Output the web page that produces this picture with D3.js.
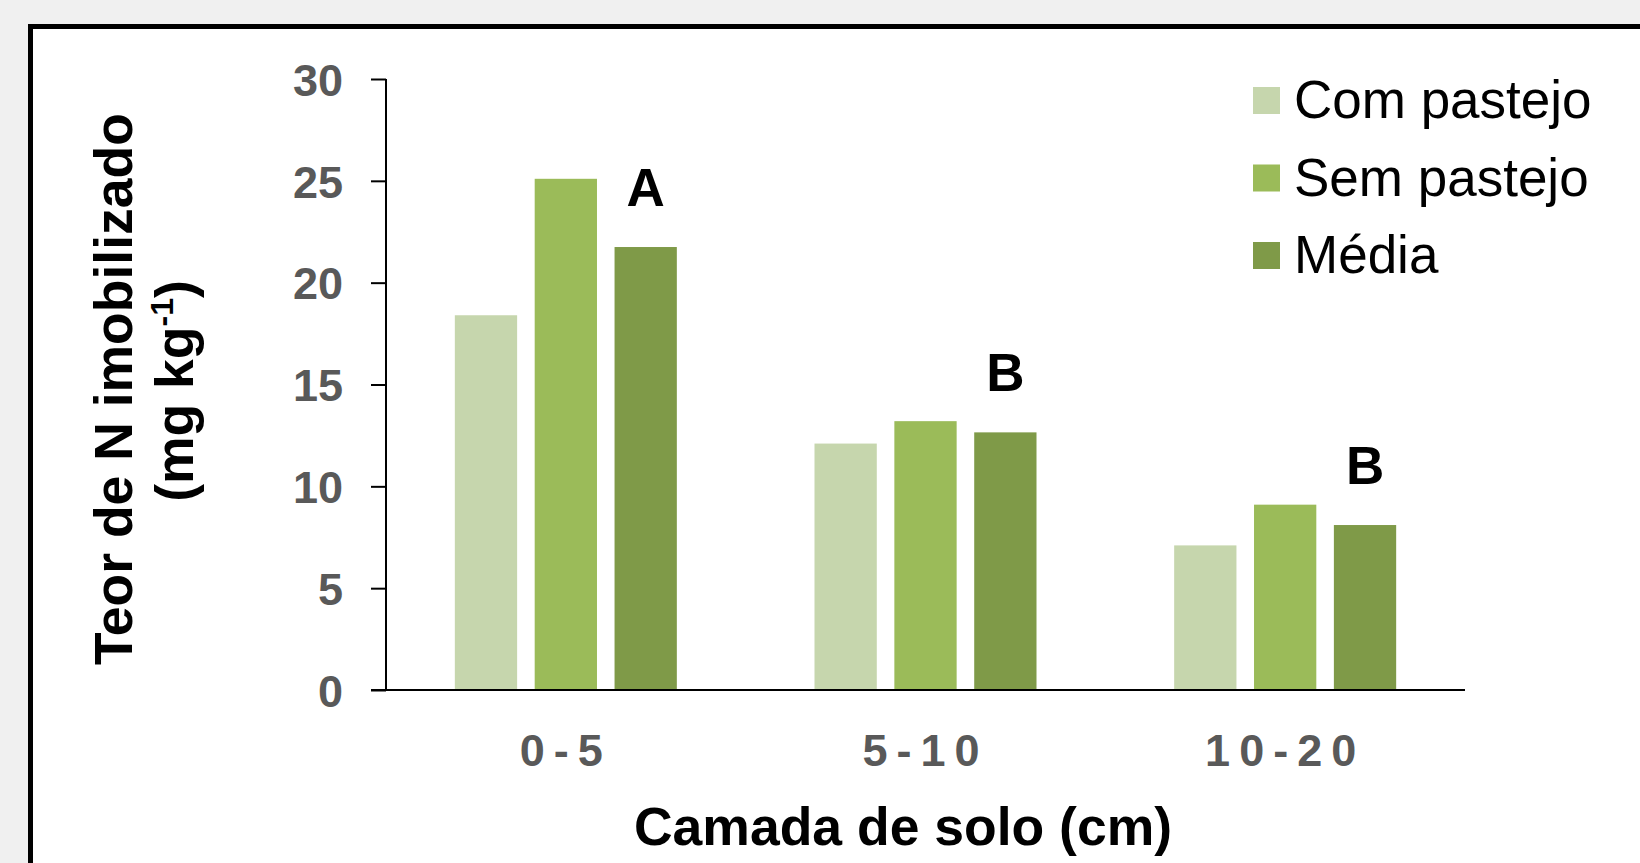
<!DOCTYPE html>
<html>
<head>
<meta charset="utf-8">
<script src="https://cdn.jsdelivr.net/npm/d3@7"></script>
<style>
  html, body { margin: 0; padding: 0; background: #f0f0f0; }
  svg { display: block; }
  text { font-family: "Liberation Sans", Arial, sans-serif; }
</style>
</head>
<body>
<svg id="chart" width="1640" height="863"></svg>
<script>
// ---- data ----
const categories = ["0-5", "5-10", "10-20"];
const seriesNames = ["Com pastejo", "Sem pastejo", "Média"];
const comPastejo = [18.4, 12.1, 7.1];
const semPastejo = [25.1, 13.2, 9.1];
const media = [21.75, 12.65, 8.1];
const sigLetters = ["A", "B", "B"];
const yTicks = [0, 5, 10, 15, 20, 25, 30];
const colors = ["#c6d6ad", "#9bbb59", "#7f9a48"];

const seriesValues = [comPastejo, semPastejo, media];
const rows = categories.map((c, i) => ({
  cat: c,
  vals: seriesNames.map((s, j) => ({ series: s, value: seriesValues[j][i] }))
}));

const svg = d3.select("#chart");

// frame
svg.append("rect")
  .attr("x", 30.5).attr("y", 26.5)
  .attr("width", 1700).attr("height", 1000)
  .attr("fill", "#ffffff").attr("stroke", "#000").attr("stroke-width", 5);

const plotLeft = 386, plotRight = 1465, plotTop = 79, plotBottom = 690;

const x0 = d3.scaleBand().domain(categories).range([plotLeft, plotRight]).paddingInner(0).paddingOuter(0);
const groupW = 222;
const x1 = d3.scaleBand().domain(seriesNames).range([0, groupW]).paddingInner(0.22).paddingOuter(0);
const y = d3.scaleLinear().domain([0, 30]).range([plotBottom, plotTop]);

// bars
const groups = svg.append("g").selectAll("g").data(rows).join("g")
  .attr("transform", d => `translate(${x0(d.cat) + (x0.bandwidth() - groupW) / 2},0)`);
groups.selectAll("rect").data(d => d.vals).join("rect")
  .attr("x", d => x1(d.series))
  .attr("y", d => y(d.value))
  .attr("width", x1.bandwidth())
  .attr("height", d => y(0) - y(d.value))
  .attr("fill", (d, i) => colors[i]);

// significance letters above the Média bars
svg.append("g").selectAll("text").data(rows).join("text")
  .attr("x", d => x0(d.cat) + (x0.bandwidth() - groupW) / 2 + x1("Média") + x1.bandwidth() / 2)
  .attr("y", (d, i) => y(media[i]) - 41)
  .attr("text-anchor", "middle")
  .attr("font-size", 53).attr("font-weight", "bold").attr("fill", "#000")
  .text((d, i) => sigLetters[i]);

// y axis
const yAxis = d3.axisLeft(y).tickValues(yTicks).tickSize(15).tickPadding(28);
const gy = svg.append("g").attr("transform", `translate(${plotLeft},0)`).call(yAxis);
gy.select(".domain").attr("stroke", "#000").attr("stroke-width", 2)
  .attr("d", `M0,${plotTop}V${plotBottom}`);
gy.selectAll(".tick line").attr("stroke", "#000").attr("stroke-width", 2);
gy.selectAll(".tick text")
  .attr("font-family", "Liberation Sans, Arial, sans-serif")
  .attr("font-size", 45).attr("font-weight", "bold").attr("fill", "#595959")
  .attr("dy", "0.36em");

// x axis
const xAxis = d3.axisBottom(x0).tickSize(0).tickPadding(0);
const gx = svg.append("g").attr("transform", `translate(0,${plotBottom})`).call(xAxis);
gx.select(".domain").attr("stroke", "#000").attr("stroke-width", 2)
  .attr("d", `M${plotLeft - 15},0H${plotRight}`);
gx.selectAll(".tick text")
  .attr("font-family", "Liberation Sans, Arial, sans-serif")
  .attr("font-size", 45).attr("font-weight", "bold").attr("fill", "#595959")
  .attr("letter-spacing", "9px")
  .attr("y", 76).attr("dy", 0);

// axis titles
svg.append("text")
  .attr("x", 903).attr("y", 845)
  .attr("text-anchor", "middle")
  .attr("font-size", 53.5).attr("font-weight", "bold").attr("fill", "#000")
  .text("Camada de solo (cm)");

svg.append("text")
  .attr("transform", "translate(132,389) rotate(-90)")
  .attr("text-anchor", "middle")
  .attr("font-size", 53.5).attr("font-weight", "bold").attr("fill", "#000")
  .text("Teor de N imobilizado");

const t2 = svg.append("text")
  .attr("transform", "translate(193,391) rotate(-90)")
  .attr("text-anchor", "middle")
  .attr("font-size", 53.5).attr("font-weight", "bold").attr("fill", "#000");
t2.append("tspan").text("(mg kg");
t2.append("tspan").attr("font-size", 32).attr("dy", -20).text("-1");
t2.append("tspan").attr("dy", 20).text(")");

// legend
const legend = svg.append("g").selectAll("g").data(seriesNames).join("g")
  .attr("transform", (d, i) => `translate(1253,${87 + i * 77.5})`);
legend.append("rect").attr("width", 27).attr("height", 27).attr("fill", (d, i) => colors[i]);
legend.append("text")
  .attr("x", 41).attr("y", 31)
  .attr("font-size", 53).attr("fill", "#000")
  .text(d => d);
</script>
</body>
</html>
